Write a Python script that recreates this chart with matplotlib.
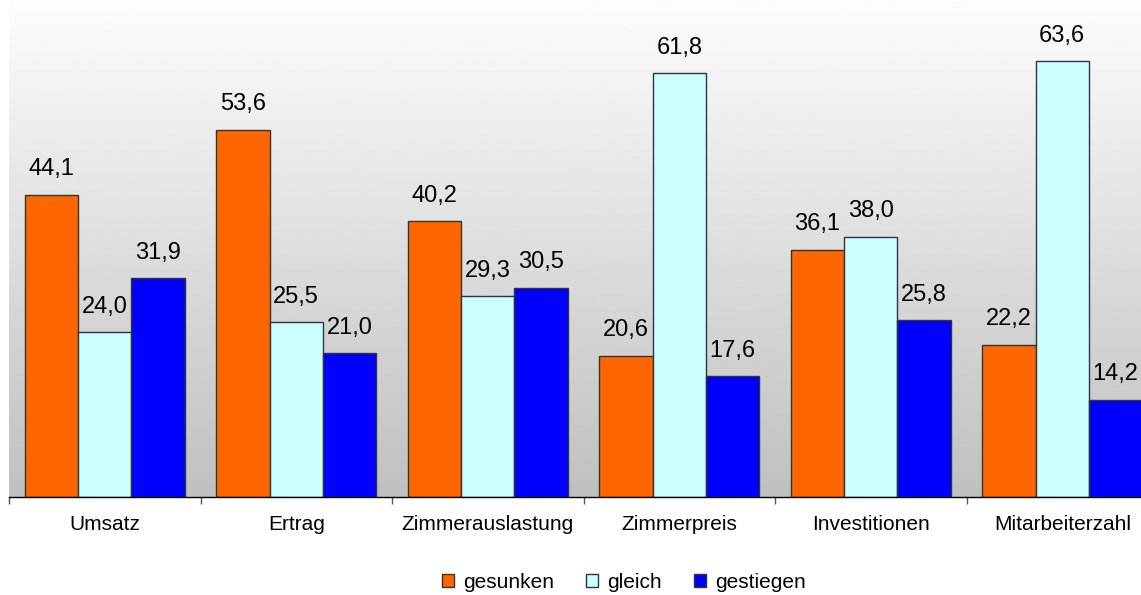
import matplotlib
matplotlib.use("Agg")
import matplotlib.pyplot as plt
import matplotlib.patches as mpatches
import numpy as np

plt.rcParams["font.family"] = ["Liberation Sans", "DejaVu Sans"]

categories = ["Umsatz", "Ertrag", "Zimmerauslastung", "Zimmerpreis",
              "Investitionen", "Mitarbeiterzahl"]
series_names = ["gesunken", "gleich", "gestiegen"]
gesunken = [44.1, 53.6, 40.2, 20.6, 36.1, 22.2]
gleich = [24.0, 25.5, 29.3, 61.8, 38.0, 63.6]
gestiegen = [31.9, 21.0, 30.5, 17.6, 25.8, 14.2]

colors = ["#FF6600", "#CCFFFF", "#0000FF"]

W, H = 1141, 595
fig = plt.figure(figsize=(W / 100, H / 100), dpi=100)
ax = fig.add_axes([9 / W, (H - 497) / H, 1149 / W, 497 / H])

x = np.arange(len(categories))
width = 0.278
ymax = 72.5

# gradient background of the plot area
grad = np.linspace(0.99, 0.75, 256).reshape(-1, 1)
ax.imshow(grad, cmap="gray", vmin=0, vmax=1, aspect="auto",
          extent=[-0.5, len(categories) - 0.5, 0, ymax], origin="upper", zorder=0)

for i, (vals, col) in enumerate(zip([gesunken, gleich, gestiegen], colors)):
    bars = ax.bar(x + (i - 1) * width, vals, width, color=col,
                  edgecolor="#333333", linewidth=1, zorder=2)
    for b, v in zip(bars, vals):
        ax.annotate(f"{v:.1f}".replace(".", ","),
                    (b.get_x() + b.get_width() / 2, v),
                    xytext=(0, 14), textcoords="offset points",
                    ha="center", va="baseline", fontsize=17)

ax.set_xlim(-0.5, len(categories) - 0.5)
ax.set_ylim(0, ymax)

for s in ["left", "right", "top"]:
    ax.spines[s].set_visible(False)
ax.spines["bottom"].set_color("black")
ax.spines["bottom"].set_linewidth(1)
ax.spines["bottom"].set_zorder(3)

ax.set_yticks([])
ax.set_xticks(x)
ax.set_xticklabels(categories, fontsize=15)
ax.tick_params(axis="x", which="major", length=0, pad=13)
ax.set_xticks(np.arange(-0.5, len(categories) + 0.5, 1), minor=True)
ax.tick_params(axis="x", which="minor", length=5, width=1, color="#555555")

handles = [mpatches.Patch(facecolor=c, edgecolor="#333333", linewidth=1)
           for c in colors]
fig.legend(handles, series_names, loc="center", ncol=3, frameon=False,
           bbox_to_anchor=(624 / W, 13 / H), fontsize=15,
           handlelength=0.58, handleheight=0.58, handletextpad=0.43,
           columnspacing=1.55)

fig.savefig("out.png", dpi=100)
